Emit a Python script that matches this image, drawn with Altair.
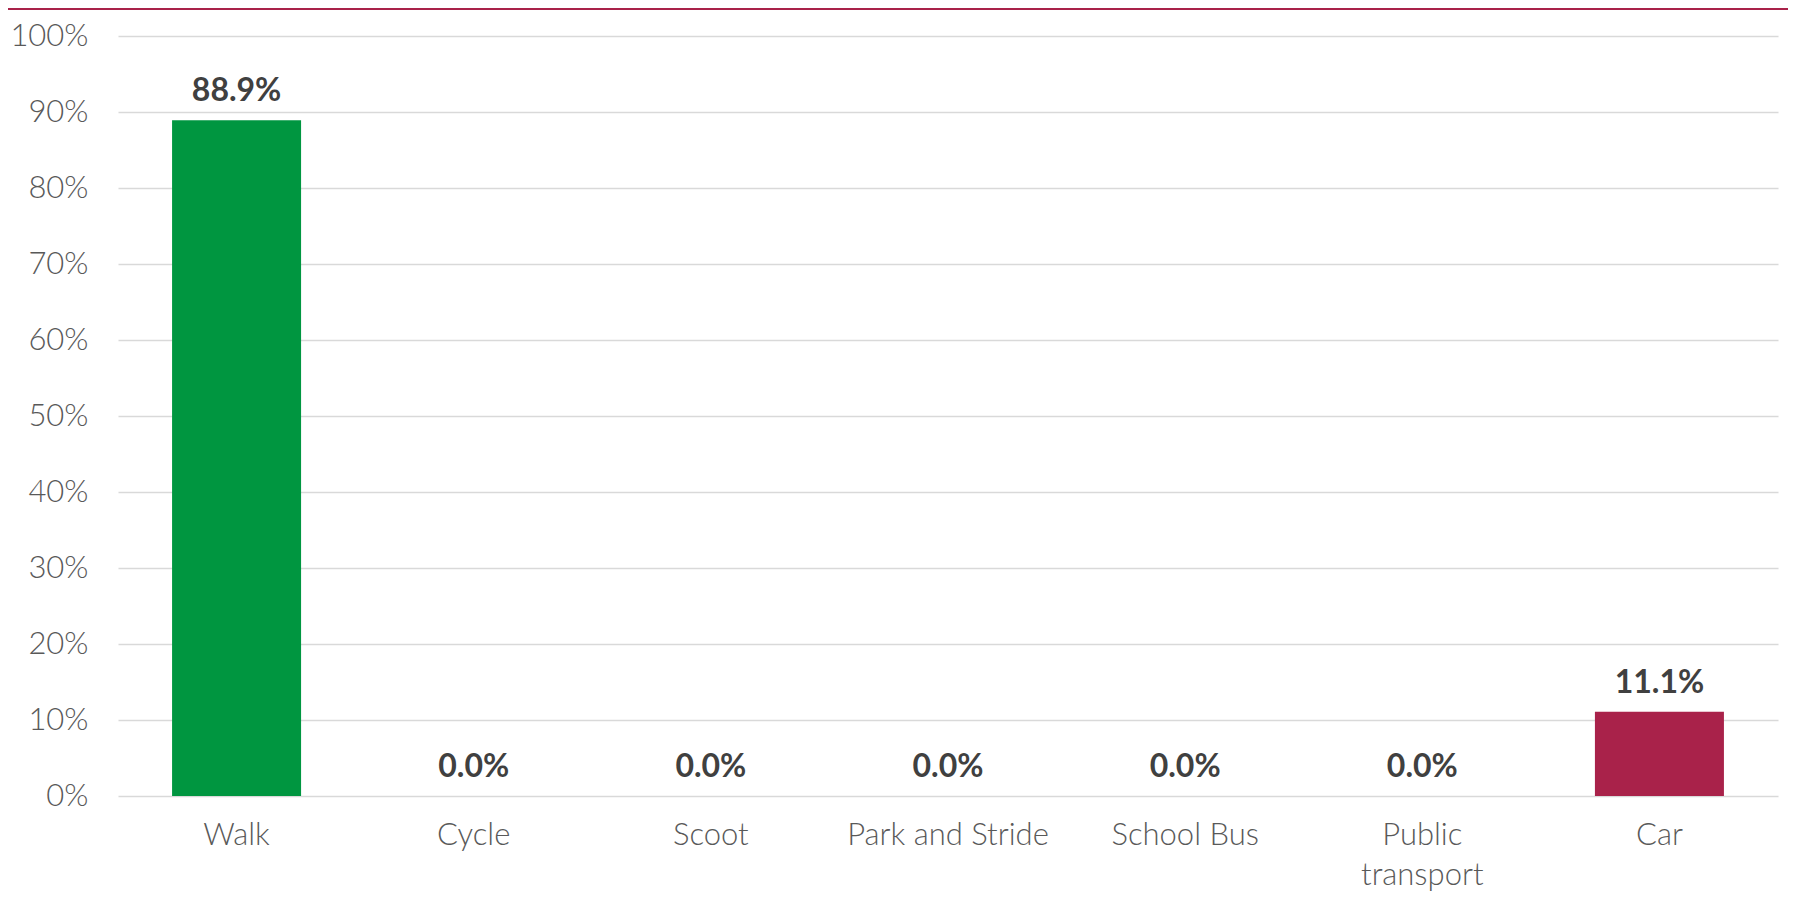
import altair as alt
import pandas as pd

categories = ["Walk", "Cycle", "Scoot", "Park and Stride", "School Bus", "Public transport", "Car"]
values = [88.9, 0.0, 0.0, 0.0, 0.0, 0.0, 11.1]
bar_colors = ["#009640", "#009640", "#009640", "#009640", "#009640", "#009640", "#A9224A"]
y_ticks = [0, 10, 20, 30, 40, 50, 60, 70, 80, 90, 100]

df = pd.DataFrame({"mode": categories, "pct": values, "color": bar_colors})
df["label"] = [f"{v:.1f}%" for v in values]

FONT = "Lato"
W, H = 1660, 760

x_enc = alt.X(
    "mode:N",
    sort=categories,
    title=None,
    scale=alt.Scale(paddingInner=0.456, paddingOuter=0.228),
    axis=alt.Axis(
        labelAngle=0,
        labelFont=FONT,
        labelFontSize=31,
        labelFontWeight=300,
        labelColor="#595959",
        labelPadding=24,
        labelLineHeight=40,
        labelLimit=0,
        labelExpr="datum.value == 'Public transport' ? ['Public', 'transport'] : datum.value",
        ticks=False,
        domain=False,
        grid=False,
    ),
)
y_enc = alt.Y(
    "pct:Q",
    title=None,
    scale=alt.Scale(domain=[0, 100], nice=False),
    axis=alt.Axis(
        values=y_ticks,
        labelExpr="datum.value + '%'",
        labelFont=FONT,
        labelFontSize=31,
        labelFontWeight=300,
        labelColor="#595959",
        labelPadding=30,
        ticks=False,
        domain=False,
        grid=True,
        gridColor="#d9d9d9",
        gridWidth=1.5,
    ),
)

bars = alt.Chart(df).mark_bar().encode(
    x=x_enc,
    y=y_enc,
    color=alt.Color("color:N", scale=None, legend=None),
)

labels = alt.Chart(df).mark_text(
    font=FONT, fontSize=32, fontWeight="bold", color="#404040", baseline="alphabetic", dy=-19
).encode(
    x=alt.X("mode:N", sort=categories),
    y=alt.Y("pct:Q"),
    text="label:N",
)

topline = alt.Chart(df).mark_rule(color="#A9224A", strokeWidth=2).encode(
    x=alt.value(-110), x2=alt.value(W + 10), y=alt.value(-27)
)

chart = (
    alt.layer(bars, labels, topline)
    .properties(
        width=W,
        height=H,
        background="white",
        padding={"left": 110, "top": 28, "right": 10, "bottom": 96},
        autosize=alt.AutoSizeParams(type="none"),
    )
    .configure_view(strokeWidth=0, stroke=None)
)

chart.save("out.html", embed_options={"renderer": "svg", "actions": False})
